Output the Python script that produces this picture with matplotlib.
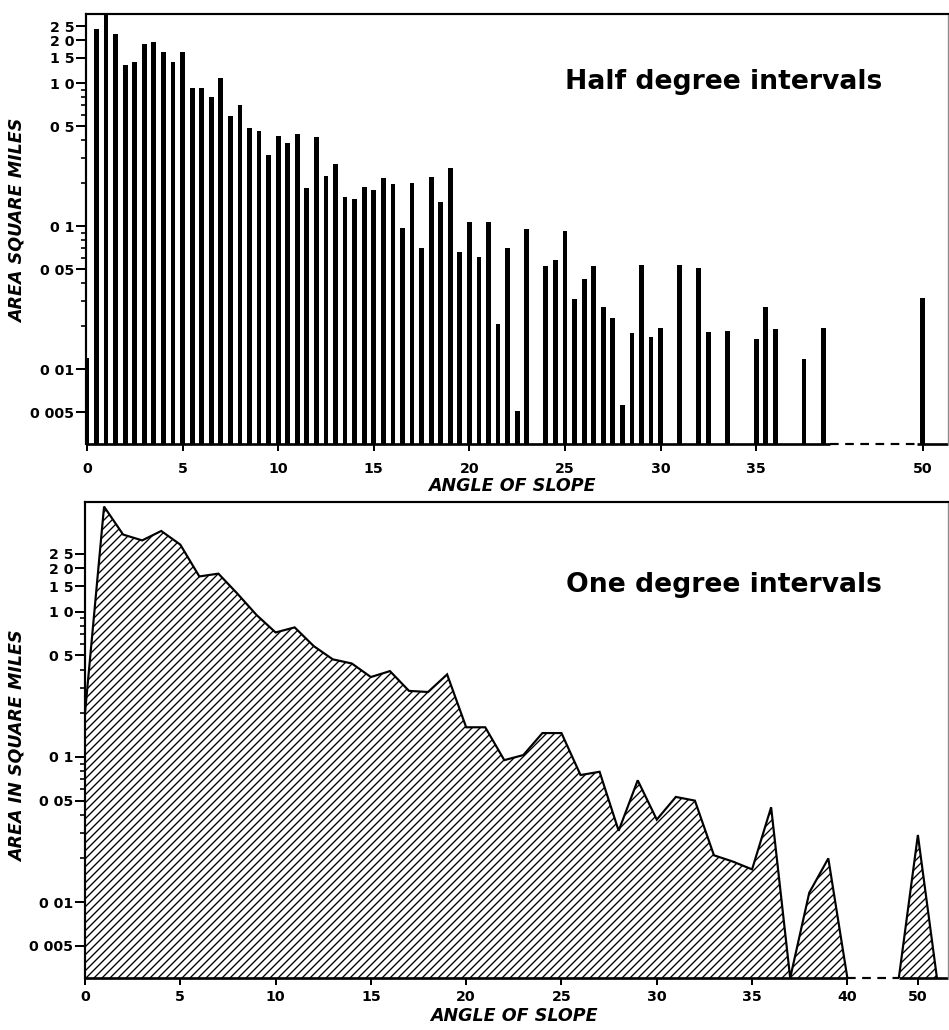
import numpy as np
import matplotlib
matplotlib.use("Agg")
from matplotlib import pyplot as plt
from matplotlib.ticker import FixedLocator, FixedFormatter, NullFormatter

DPI = 120
plt.rcParams['font.family'] = ['DejaVu Sans']
plt.rcParams['hatch.linewidth'] = 0.8

# half degree intervals (missing classes have no area)
half_angles = [0.0, 0.5, 1.0, 1.5, 2.0, 2.5, 3.0, 3.5, 4.0, 4.5,
               5.0, 5.5, 6.0, 6.5, 7.0, 7.5, 8.0, 8.5, 9.0, 9.5,
               10.0, 10.5, 11.0, 11.5, 12.0, 12.5, 13.0, 13.5, 14.0, 14.5,
               15.0, 15.5, 16.0, 16.5, 17.0, 17.5, 18.0, 18.5, 19.0, 19.5,
               20.0, 20.5, 21.0, 21.5, 22.0, 22.5, 23.0, 24.0, 24.5,
               25.0, 25.5, 26.0, 26.5, 27.0, 27.5, 28.0, 28.5, 29.0, 29.5,
               30.0, 31.0, 32.0, 32.5, 33.5, 35.0, 35.5, 36.0, 37.5, 38.5,
               50.0]
half_area = [0.012, 2.39, 3.1, 2.2, 1.34, 1.40, 1.87, 1.93, 1.65, 1.40,
             1.65, 0.92, 0.92, 0.80, 1.08, 0.59, 0.70, 0.485, 0.46, 0.314,
             0.43, 0.38, 0.44, 0.185, 0.42, 0.224, 0.27, 0.16, 0.154, 0.187,
             0.18, 0.217, 0.197, 0.097, 0.20, 0.070, 0.22, 0.147, 0.254, 0.066,
             0.107, 0.061, 0.107, 0.0206, 0.070, 0.0051, 0.095, 0.0525, 0.058,
             0.092, 0.031, 0.0426, 0.0525, 0.0272, 0.0227, 0.0056, 0.0179, 0.0533, 0.0167,
             0.0194, 0.0533, 0.051, 0.0182, 0.0185, 0.0162, 0.0272, 0.019, 0.0118, 0.0194,
             0.0317]

# one degree intervals (0 = no area)
one_angles = list(range(0, 41)) + [49, 50, 51]
one_area = [0.2, 5.3, 3.4, 3.1, 3.6, 2.9, 1.75, 1.83, 1.33, 0.95,
            0.72, 0.78, 0.58, 0.47, 0.44, 0.355, 0.39, 0.285, 0.28, 0.37,
            0.16, 0.16, 0.095, 0.103, 0.146, 0.146, 0.075, 0.079, 0.031, 0.069,
            0.037, 0.053, 0.050, 0.021, 0.019, 0.0168, 0.045, 0, 0.0116, 0.020,
            0, 0, 0.029, 0]

y_ticks = [2.5, 2.0, 1.5, 1.0, 0.5, 0.1, 0.05, 0.01, 0.005]
y_tick_labels = ["2 5", "2 0", "1 5", "1 0", "0 5", "0 1", "0 05", "0 01", "0 005"]
y_minor = [0.02, 0.03, 0.04, 0.06, 0.07, 0.08, 0.09, 0.2, 0.3, 0.4, 0.6, 0.7, 0.8, 0.9]
top_x_ticks = [0, 5, 10, 15, 20, 25, 30, 35, 50]
bottom_x_ticks = [0, 5, 10, 15, 20, 25, 30, 35, 40, 50]

FLOOR = 0.003


# broken x axis: 40..49 squeezed, beyond 49 shifted left
def fwd(x):
    x = np.asarray(x, dtype=float)
    return np.where(x <= 40, x, np.where(x < 49, 40 + (x - 40) * 0.3, x - 6.3))


def inv(x):
    x = np.asarray(x, dtype=float)
    return np.where(x <= 40, x, np.where(x < 42.7, 40 + (x - 40) / 0.3, x + 6.3))


def style_axes(ax, xticks, ylim, xlim):
    ax.set_xscale('function', functions=(fwd, inv))
    ax.set_yscale('log')
    ax.set_xlim(*xlim)
    ax.set_ylim(*ylim)
    ax.xaxis.set_major_locator(FixedLocator(xticks))
    ax.xaxis.set_major_formatter(FixedFormatter([str(t) for t in xticks]))
    ax.xaxis.set_minor_locator(FixedLocator([]))
    ax.yaxis.set_major_locator(FixedLocator(y_ticks))
    ax.yaxis.set_major_formatter(FixedFormatter(y_tick_labels))
    ax.yaxis.set_minor_locator(FixedLocator(y_minor))
    ax.yaxis.set_minor_formatter(NullFormatter())
    ax.tick_params(axis='y', which='major', length=6, width=1.2, pad=1, labelsize=8.5)
    ax.tick_params(axis='y', which='minor', length=3, width=1.0)
    ax.tick_params(axis='x', which='major', length=4, width=1.2, labelsize=8.5)
    for lab in ax.get_xticklabels() + ax.get_yticklabels():
        lab.set_fontweight('bold')
    for side in ['left', 'top']:
        ax.spines[side].set_linewidth(1.3)
    ax.spines['right'].set_linewidth(0.8)
    ax.spines['right'].set_color('0.55')
    ax.spines['bottom'].set_visible(False)


def baseline(ax, solid1, dashed, solid2):
    tr = ax.get_xaxis_transform()
    ax.plot(solid1, [0, 0], color='black', lw=1.6, transform=tr, clip_on=False, solid_capstyle='butt')
    ax.plot(dashed, [0, 0], color='black', lw=1.3, ls=(0, (4, 3)), transform=tr, clip_on=False)
    ax.plot(solid2, [0, 0], color='black', lw=1.6, transform=tr, clip_on=False, solid_capstyle='butt')


fig = plt.figure(figsize=(949 / DPI, 1030 / DPI), dpi=DPI)
W, H = 949.0, 1030.0
ax1 = fig.add_axes([86 / W, 1 - 444 / H, (948 - 86) / W, (444 - 14) / H])
ax2 = fig.add_axes([85 / W, 1 - 978 / H, (948 - 85) / W, (978 - 502) / H])

# --- top: half degree bars
style_axes(ax1, top_x_ticks, (FLOOR, 3.04), (-0.05, 51.33))
ax1.tick_params(axis='x', pad=7)
ax1.bar(half_angles, np.array(half_area) - FLOOR, bottom=FLOOR, width=0.25,
        color='black', edgecolor='none')
baseline(ax1, [-0.05, 38.85], [38.85, 49.7], [49.7, 51.33])
ax1.text(0.556, 0.842, "Half degree intervals", transform=ax1.transAxes,
         ha='left', va='center', fontsize=16, fontweight='bold')
ax1.text(-0.079, 0.52, "AREA SQUARE MILES", transform=ax1.transAxes, rotation=90,
         ha='center', va='center', fontsize=10.5, fontweight='bold', fontstyle='italic')
ax1.text(0.494, -0.098, "ANGLE OF SLOPE", transform=ax1.transAxes,
         ha='center', va='center', fontsize=10.5, fontweight='bold', fontstyle='italic')

# --- bottom: one degree hatched area
style_axes(ax2, bottom_x_ticks, (FLOOR, 5.7), (0, 51.58))
ax2.tick_params(axis='x', pad=3)
x = np.array(one_angles, dtype=float)
y = np.clip(np.array(one_area, dtype=float), FLOOR, None)
ax2.fill_between(x, FLOOR, y, facecolor='white', edgecolor='black', hatch='/////', linewidth=0)
ax2.plot(x[:41], y[:41], color='black', lw=1.3, solid_joinstyle='miter')
ax2.plot(x[41:], y[41:], color='black', lw=1.3, solid_joinstyle='miter')
baseline(ax2, [0, 40], [40, 49], [49, 51.58])
ax2.text(0.557, 0.826, "One degree intervals", transform=ax2.transAxes,
         ha='left', va='center', fontsize=16, fontweight='bold')
ax2.text(-0.078, 0.487, "AREA IN SQUARE MILES", transform=ax2.transAxes, rotation=90,
         ha='center', va='center', fontsize=10.5, fontweight='bold', fontstyle='italic')
ax2.text(0.497, -0.08, "ANGLE OF SLOPE", transform=ax2.transAxes,
         ha='center', va='center', fontsize=10.5, fontweight='bold', fontstyle='italic')

fig.savefig("out.png", dpi=DPI)
